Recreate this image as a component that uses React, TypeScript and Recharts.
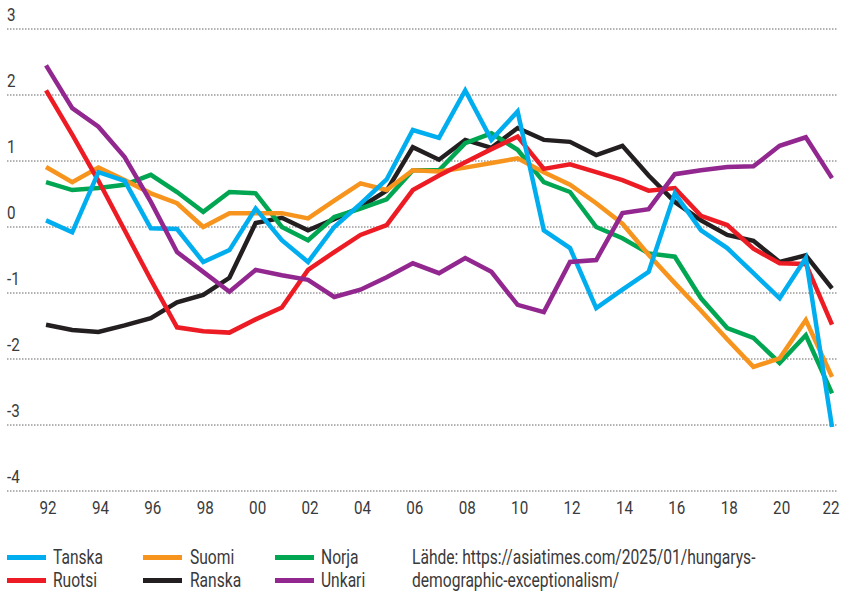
import React from 'react';
import { LineChart, Line, XAxis, YAxis, CartesianGrid } from 'recharts';

const years = [
  1992, 1993, 1994, 1995, 1996, 1997, 1998, 1999, 2000, 2001, 2002, 2003, 2004, 2005, 2006, 2007,
  2008, 2009, 2010, 2011, 2012, 2013, 2014, 2015, 2016, 2017, 2018, 2019, 2020, 2021, 2022,
];
const tanska = [
  0.1, -0.08, 0.83, 0.7, -0.02, -0.03, -0.53, -0.35, 0.28, -0.2, -0.53, 0.0, 0.35, 0.72, 1.47, 1.35,
  2.07, 1.32, 1.75, -0.05, -0.32, -1.23, -0.95, -0.68, 0.51, -0.05, -0.32, -0.7, -1.08, -0.47, -3.03,
];
const ruotsi = [
  2.07, 1.4, 0.7, -0.05, -0.8, -1.52, -1.58, -1.6, -1.4, -1.22, -0.65, -0.38, -0.12, 0.03, 0.56, 0.78,
  0.98, 1.18, 1.37, 0.88, 0.95, 0.83, 0.71, 0.55, 0.59, 0.17, 0.03, -0.33, -0.55, -0.56, -1.48,
];
const suomi = [
  0.91, 0.68, 0.9, 0.71, 0.51, 0.36, 0.0, 0.21, 0.21, 0.21, 0.13, 0.4, 0.66, 0.56, 0.86, 0.84,
  0.9, 0.97, 1.04, 0.83, 0.64, 0.36, 0.05, -0.42, -0.85, -1.27, -1.7, -2.12, -1.99, -1.41, -2.27,
];
const ranska = [
  -1.48, -1.56, -1.59, -1.49, -1.38, -1.14, -1.03, -0.77, 0.06, 0.14, -0.05, 0.12, 0.3, 0.55, 1.21, 1.02,
  1.32, 1.2, 1.5, 1.32, 1.29, 1.09, 1.23, 0.78, 0.38, 0.1, -0.12, -0.21, -0.53, -0.43, -0.93,
];
const norja = [
  0.68, 0.56, 0.59, 0.64, 0.79, 0.53, 0.23, 0.53, 0.51, 0.0, -0.2, 0.15, 0.28, 0.42, 0.86, 0.86,
  1.27, 1.42, 1.17, 0.68, 0.53, 0.0, -0.17, -0.4, -0.45, -1.08, -1.53, -1.68, -2.06, -1.64, -2.52,
];
const unkari = [
  2.45, 1.8, 1.52, 1.06, 0.38, -0.38, -0.68, -0.98, -0.65, -0.73, -0.8, -1.06, -0.95, -0.76, -0.55, -0.7,
  -0.47, -0.68, -1.18, -1.29, -0.53, -0.5, 0.21, 0.27, 0.8, 0.86, 0.91, 0.92, 1.23, 1.36, 0.74,
];
const xTicks = [1992, 1994, 1996, 1998, 2000, 2002, 2004, 2006, 2008, 2010, 2012, 2014, 2016, 2018, 2020, 2022];
const yTicks = [-4, -3, -2, -1, 0, 1, 2, 3];

const series = [
  { key: 'ranska', name: 'Ranska', color: '#231f20' },
  { key: 'norja', name: 'Norja', color: '#00a651' },
  { key: 'suomi', name: 'Suomi', color: '#f7941d' },
  { key: 'ruotsi', name: 'Ruotsi', color: '#ed1c24' },
  { key: 'tanska', name: 'Tanska', color: '#00aeef' },
  { key: 'unkari', name: 'Unkari', color: '#92278f' },
];

const rows = years.map((year, i) => ({
  year,
  tanska: tanska[i],
  ruotsi: ruotsi[i],
  suomi: suomi[i],
  ranska: ranska[i],
  norja: norja[i],
  unkari: unkari[i],
}));

const FONT = 'Roboto, sans-serif';
const TEXT = '#3a3a3a';

// the original uses a condensed face, so squeeze Roboto horizontally
const YTick = (props: any) => {
  const { y, payload } = props;
  return (
    <text transform={`translate(7,${y - 8}) scale(0.8,1)`} fill={TEXT} fontSize={19} fontFamily={FONT}>
      {payload.value}
    </text>
  );
};

const XTick = (props: any) => {
  const { x, y, payload } = props;
  const label = String(payload.value % 100).padStart(2, '0');
  return (
    <text transform={`translate(${x + 2},${y + 15}) scale(0.8,1)`} textAnchor="middle" fill={TEXT} fontSize={19} fontFamily={FONT}>
      {label}
    </text>
  );
};

const legendItems = [
  { name: 'Tanska', color: '#00aeef', x: 7, tx: 53, row: 0 },
  { name: 'Suomi', color: '#f7941d', x: 143, tx: 190, row: 0 },
  { name: 'Norja', color: '#00a651', x: 275, tx: 321, row: 0 },
  { name: 'Ruotsi', color: '#ed1c24', x: 7, tx: 53, row: 1 },
  { name: 'Ranska', color: '#231f20', x: 143, tx: 190, row: 1 },
  { name: 'Unkari', color: '#92278f', x: 275, tx: 321, row: 1 },
];
const rowMid = [557, 580];
const rowTop = [546, 569];

const squeeze: React.CSSProperties = {
  position: 'absolute',
  fontSize: 20,
  lineHeight: '23px',
  height: 23,
  transform: 'scaleX(0.78)',
  transformOrigin: 'left center',
  whiteSpace: 'nowrap',
};

export default function App() {
  return (
    <div style={{ position: 'absolute', left: 0, top: 0, width: 845, height: 593, background: '#fff', fontFamily: FONT, color: TEXT }}>
      <LineChart width={845} height={530} data={rows} margin={{ top: 29, right: 8, left: -23, bottom: 0 }}>
        <CartesianGrid vertical={false} stroke="#666" strokeDasharray="1.5 1.5" />
        <XAxis
          dataKey="year"
          type="number"
          domain={[1990.51, 2022.19]}
          ticks={xTicks}
          axisLine={false}
          tickLine={false}
          height={39}
          tick={(p: any) => <XTick {...p} />}
        />
        <YAxis
          domain={[-4, 3]}
          ticks={yTicks}
          width={30}
          axisLine={false}
          tickLine={false}
          tick={(p: any) => <YTick {...p} />}
        />
        {series.map((s) => (
          <Line
            key={s.key}
            dataKey={s.key}
            name={s.name}
            stroke={s.color}
            strokeWidth={4.5}
            strokeLinejoin="miter"
            dot={false}
            activeDot={false}
            isAnimationActive={false}
            type="linear"
          />
        ))}
      </LineChart>
      {legendItems.map((it) => (
        <React.Fragment key={it.name}>
          <div style={{ position: 'absolute', left: it.x, top: rowMid[it.row] - 2, width: 39, height: 4.5, background: it.color }} />
          <div style={{ ...squeeze, left: it.tx, top: rowTop[it.row] }}>{it.name}</div>
        </React.Fragment>
      ))}
      <div style={{ ...squeeze, left: 412, top: rowTop[0] }}>Lähde: https://asiatimes.com/2025/01/hungarys-</div>
      <div style={{ ...squeeze, left: 412, top: rowTop[1] }}>demographic-exceptionalism/</div>
    </div>
  );
}
